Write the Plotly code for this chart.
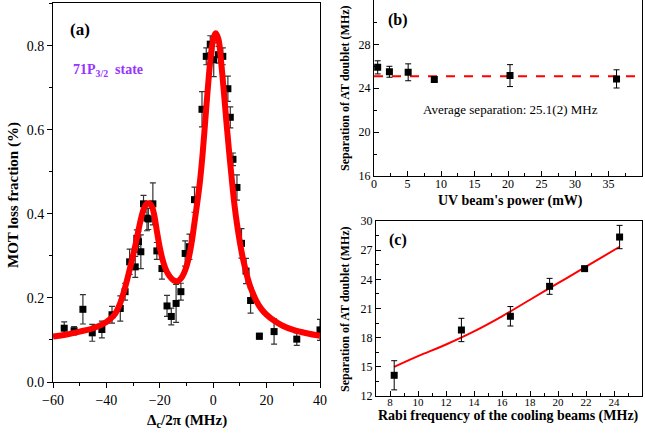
import plotly.graph_objects as go

W, H = 645, 439

# ---- panel (a): MOT loss fraction vs detuning ----
det_a = [-55.8, -52.1, -48.8, -45.3, -41.7, -37.9, -34.8, -33.0, -31.3, -29.2, -28.6, -28.0,
         -27.1, -26.1, -24.8, -24.3, -22.6, -21.1, -19.2, -17.3, -15.7, -13.9, -12.1, -10.5,
         -8.9, -7.0, -4.2, -2.6, -1.1, 0.2, 2.0, 3.6, 5.5, 6.4, 7.4, 8.9, 10.6, 12.3, 14.0,
         17.3, 22.8, 31.3, 40.0]
loss_a = [0.128, 0.122, 0.173, 0.117, 0.125, 0.160, 0.175, 0.215, 0.286, 0.274, 0.342, 0.334,
          0.310, 0.424, 0.390, 0.388, 0.424, 0.312, 0.270, 0.181, 0.156, 0.187, 0.215, 0.306,
          0.322, 0.434, 0.649, 0.775, 0.804, 0.767, 0.779, 0.775, 0.698, 0.630, 0.530, 0.463,
          0.330, 0.264, 0.194, 0.109, 0.120, 0.102, 0.124]
err_a = [0.015, 0.010, 0.035, 0.020, 0.020, 0.020, 0.030, 0.020, 0.030, 0.025, 0.020, 0.025,
         0.040, 0.020, 0.030, 0.025, 0.050, 0.020, 0.025, 0.025, 0.020, 0.045, 0.020, 0.030,
         0.030, 0.030, 0.042, 0.020, 0.020, 0.040, 0.020, 0.020, 0.030, 0.025, 0.015, 0.030,
         0.035, 0.030, 0.030, 0.007, 0.030, 0.015, 0.025]

fit_x_a = [-60, -55, -50, -45, -40, -37, -35, -33, -31, -29, -27, -26, -25, -24, -23, -22,
           -21, -20, -19, -18, -17, -16, -15, -14, -13, -12, -11, -10, -9, -8, -7, -6, -5,
           -4, -3, -2, -1, 0, 1, 2, 3, 4, 5, 6, 7, 8, 9, 10, 11, 12, 13, 14, 16, 18, 20, 23,
           26, 30, 35, 40]
fit_y_a = [0.108, 0.113, 0.120, 0.128, 0.143, 0.160, 0.185, 0.225, 0.275, 0.330, 0.390,
           0.412, 0.424, 0.425, 0.418, 0.395, 0.355, 0.320, 0.292, 0.272, 0.258, 0.249,
           0.243, 0.240, 0.241, 0.247, 0.258, 0.275, 0.300, 0.335, 0.380, 0.425, 0.475,
           0.540, 0.620, 0.700, 0.770, 0.815, 0.830, 0.815, 0.760, 0.690, 0.615, 0.545,
           0.480, 0.420, 0.372, 0.332, 0.298, 0.270, 0.245, 0.225, 0.195, 0.174, 0.160,
           0.145, 0.134, 0.124, 0.116, 0.110]

# ---- panel (b): separation vs UV power ----
power_b = [0.55, 2.3, 5.1, 9.0, 20.3, 36.2]
sep_b = [25.9, 25.5, 25.45, 24.8, 25.15, 24.85]
err_b = [0.6, 0.5, 0.77, 0.15, 1.0, 0.83]
avg_b = 25.1

# ---- panel (c): separation vs Rabi frequency ----
rabi_c = [8.3, 13.1, 16.6, 19.4, 21.9, 24.4]
sep_c = [14.13, 18.79, 20.2, 23.28, 25.1, 28.35]
err_c = [1.5, 1.2, 1.0, 0.82, 0.1, 1.2]
fit_x_c = [8.3, 10, 12, 14, 16, 18, 20, 22, 24.4]
fit_y_c = [15.0, 16.1, 17.3, 18.65, 20.2, 21.9, 23.6, 25.3, 27.35]

FONT = "Liberation Serif"

fig = go.Figure()

# (a)
fig.add_trace(go.Scatter(
    x=det_a, y=loss_a, mode="markers", xaxis="x", yaxis="y",
    marker=dict(symbol="square", size=7, color="black"),
    error_y=dict(type="data", array=err_a, color="#333333", thickness=1.2, width=3),
    showlegend=False))
fig.add_trace(go.Scatter(
    x=fit_x_a, y=fit_y_a, mode="lines", xaxis="x", yaxis="y", line_shape="spline",
    line=dict(color="#ff0000", width=6), showlegend=False))

# (b)
fig.add_trace(go.Scatter(
    x=[0, 40], y=[avg_b, avg_b], mode="lines", xaxis="x2", yaxis="y2",
    line=dict(color="#ff0000", width=2, dash="dash"), showlegend=False))
fig.add_trace(go.Scatter(
    x=power_b, y=sep_b, mode="markers", xaxis="x2", yaxis="y2",
    marker=dict(symbol="square", size=7, color="black"),
    error_y=dict(type="data", array=err_b, color="black", thickness=1, width=3),
    showlegend=False))

# (c)
fig.add_trace(go.Scatter(
    x=fit_x_c, y=fit_y_c, mode="lines", xaxis="x3", yaxis="y3", line_shape="spline",
    line=dict(color="#ff0000", width=2), showlegend=False))
fig.add_trace(go.Scatter(
    x=rabi_c, y=sep_c, mode="markers", xaxis="x3", yaxis="y3",
    marker=dict(symbol="square", size=7, color="black"),
    error_y=dict(type="data", array=err_c, color="black", thickness=1, width=3),
    showlegend=False))


def ax(domain, rng, dtick, minor, anchor, size=13, ticks="outside", standoff=0):
    return dict(domain=domain, range=rng, dtick=dtick, anchor=anchor, automargin=False,
                showgrid=False, zeroline=False, showline=True, linecolor="black",
                linewidth=1, mirror=True, ticks=ticks, ticklen=5, tickcolor="black",
                ticklabelstandoff=standoff,
                minor=dict(dtick=minor, ticks=ticks, ticklen=3, tickcolor="black"),
                tickfont=dict(family=FONT, size=size, color="black"))


fig.update_layout(
    width=W, height=H, margin=dict(l=0, r=0, t=0, b=0, autoexpand=False),
    paper_bgcolor="white", plot_bgcolor="white",
    xaxis=ax([53 / W, 320 / W], [-60, 40], 20, 10, "y", 14),
    yaxis=dict(ax([1 - 382 / H, 1 - 3 / H], [0, 0.902], 0.2, 0.1, "x", 14), tickformat=".1f"),
    xaxis2=ax([374 / W, 642 / W], [0, 40], 5, 2.5, "y2", 12, "inside", -3),
    yaxis2=ax([1 - 176 / H, 0.999], [16, 32], 4, 2, "x2", 12, "inside"),
    xaxis3=ax([376 / W, 642 / W], [7, 26], 2, 1, "y3", 11, "inside", -4),
    yaxis3=ax([1 - 396 / H, 1 - 221 / H], [12, 30], 3, 1.5, "x3", 12, "inside"),
)

bold = dict(family=FONT, color="black")
ann = [
    dict(text="<b>(a)</b>", x=80 / W, y=1 - 29 / H, font=dict(size=17, **bold)),
    dict(text="<b>71P<sub>3/2</sub>  state</b>", x=108 / W, y=1 - 71 / H,
         font=dict(family=FONT, size=14, color="#9933ff")),
    dict(text="<b>MOT loss fraction (%)</b>", x=13 / W, y=1 - 195 / H, textangle=-90,
         font=dict(size=15, **bold)),
    dict(text="<b>Δ<sub>c</sub>/2π (MHz)</b>", x=187 / W, y=1 - 421 / H,
         font=dict(size=15, **bold)),
    dict(text="<b>(b)</b>", x=398 / W, y=1 - 20 / H, font=dict(size=16, **bold)),
    dict(text="Average separation: 25.1(2) MHz", x=510 / W, y=1 - 110 / H,
         font=dict(family=FONT, size=13, color="black")),
    dict(text="<b>Separation of AT doublet (MHz)</b>", x=345 / W, y=1 - 88 / H,
         textangle=-90, font=dict(size=12, **bold)),
    dict(text="<b>UV beam's power (mW)</b>", x=510 / W, y=1 - 201 / H,
         font=dict(size=14, **bold)),
    dict(text="<b>(c)</b>", x=398 / W, y=1 - 240 / H, font=dict(size=16, **bold)),
    dict(text="<b>Separation of AT doublet (MHz)</b>", x=345 / W, y=1 - 309 / H,
         textangle=-90, font=dict(size=12, **bold)),
    dict(text="<b>Rabi frequency of the cooling beams (MHz)</b>", x=508 / W, y=1 - 416 / H,
         font=dict(size=14, **bold)),
]
for a in ann:
    a.update(xref="paper", yref="paper", showarrow=False, xanchor="center", yanchor="middle")
fig.update_layout(annotations=ann)

# the page's default body margin would shift the whole figure by 8px
fig.write_html("out.html", config={"displayModeBar": False},
               post_script="document.body.style.margin='0';")
